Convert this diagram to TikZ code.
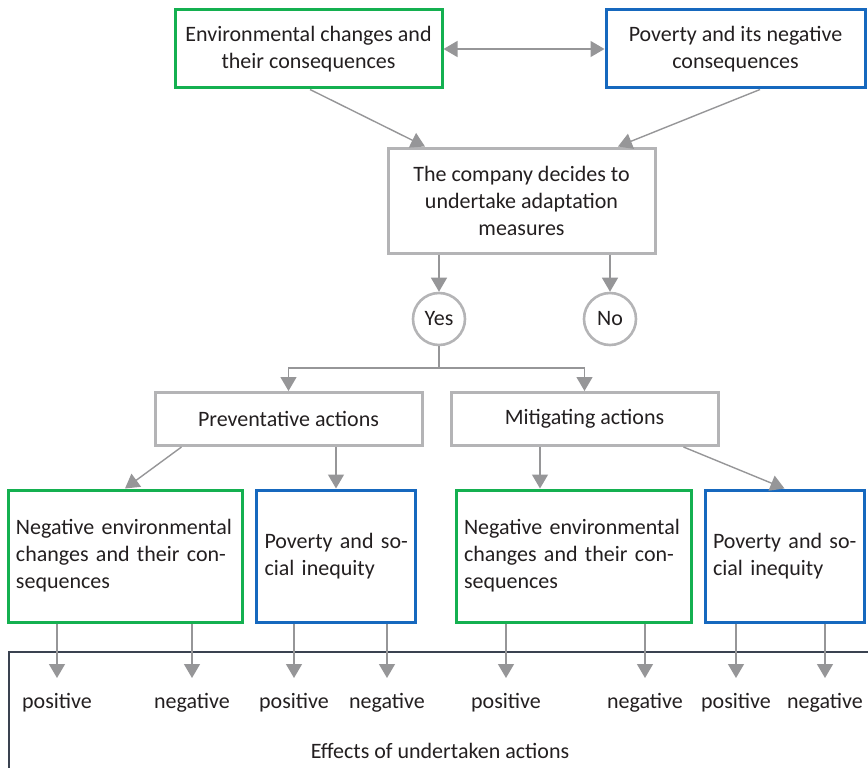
\documentclass[tikz,border=0pt]{standalone}
\usepackage{fontspec}
\setmainfont{Carlito}
\usetikzlibrary{arrows.meta}
\definecolor{envgreen}{RGB}{20,176,80}
\definecolor{povblue}{RGB}{22,104,190}
\definecolor{boxgray}{RGB}{180,180,182}
\definecolor{arrgray}{RGB}{150,150,152}
\definecolor{framedark}{RGB}{58,66,80}
\definecolor{txt}{RGB}{35,31,32}
\begin{document}
\begin{tikzpicture}[x=1pt,y=-1pt,
  font=\fontsize{22}{27}\selectfont, text=txt,
  basebox/.style={draw, line width=3pt, inner sep=0pt, align=center},
  greenbox/.style={basebox, draw=envgreen},
  bluebox/.style={basebox, draw=povblue},
  graybox/.style={basebox, draw=boxgray},
  leftbox/.style={align=left, inner xsep=8pt, inner ysep=0pt},
  choice/.style={circle, draw=boxgray, line width=2.6pt, minimum size=52pt, inner sep=0pt},
  flow/.style={draw=arrgray, line width=1.4pt, -{Triangle[width=16pt,length=14pt]}},
  flowboth/.style={draw=arrgray, line width=1.4pt, {Triangle[width=16pt,length=14pt]}-{Triangle[width=16pt,length=14pt]}},
  joint/.style={draw=arrgray, line width=1.4pt},
  effect/.style={inner sep=0pt}
]
\useasboundingbox (0,0) rectangle (868,768);

% top row: the two driving factors
\node[greenbox, minimum width=267pt, minimum height=78pt] (env) at (308.5,49)
  {Environmental changes and\\their consequences};
\node[bluebox, minimum width=259pt, minimum height=78pt] (pov) at (735.5,49)
  {Poverty and its negative\\consequences};

% decision
\node[graybox, minimum width=267pt, minimum height=105pt] (comp) at (521.5,200.5)
  {The company decides to\\undertake adaptation\\measures};
\node[choice] (yes) at (439,319) {Yes};
\node[choice] (no) at (610,319) {No};

% kinds of action
\node[graybox, minimum width=267pt, minimum height=53pt] (prev) at (288.5,419) {Preventative actions};
\node[graybox, minimum width=267pt, minimum height=53pt] (mit) at (584.5,419) {Mitigating actions};

% areas addressed (hyphenated lines kept as set)
\node[greenbox, leftbox, text width=218pt, minimum height=132pt] (g1) at (125,556)
  {\mbox{Negative environmental}\\\mbox{changes and their con-}\\sequences};
\node[bluebox, leftbox, text width=143pt, minimum height=132pt] (b1) at (336,556)
  {\mbox{Poverty and so-}\\\mbox{cial inequity}};
\node[greenbox, leftbox, text width=219pt, minimum height=132pt] (g2) at (573.5,556)
  {\mbox{Negative environmental}\\\mbox{changes and their con-}\\sequences};
\node[bluebox, leftbox, text width=143pt, minimum height=132pt] (b2) at (784.5,556)
  {\mbox{Poverty and so-}\\\mbox{cial inequity}};

% frame of the effects area, running off the page
\begin{scope}
  \clip (0,0) rectangle (868,768);
  \draw[framedark, line width=2.8pt] (9,652) rectangle (900,800);
\end{scope}
\node[effect] (eff) at (440,751) {Effects of undertaken actions};

% effect labels and arrow tips
\foreach \n/\x/\w in {p1/57/positive, n1/192/negative, p2/294/positive, n2/387/negative,
                      p3/506/positive, n3/645/negative, p4/736/positive, n4/825/negative}{
  \node[effect] (\n) at (\x,703) {\w};
  \coordinate (t\n) at (\x,678);
}

% connectors
\draw[flowboth] (env.east) -- (pov.west);
\draw[flow] ([xshift=1.5pt]env.south) -- ([xshift=-96.5pt]comp.north);
\draw[flow] ([xshift=24.5pt]pov.south) -- ([xshift=96.5pt]comp.north);
\draw[flow] (comp.south -| yes) -- (yes.north);
\draw[flow] (comp.south -| no) -- (no.north);
\coordinate (split) at (439,368);
\draw[joint] (yes.south) -- (split);
\draw[flow] (split) -| (prev.north);
\draw[flow] (split) -| (mit.north);
\draw[flow] ([xshift=28pt]prev.south west) -- (g1.north);
\draw[flow] (prev.south -| b1) -- (b1.north);
\draw[flow] (mit.south -| 540,0) -- (g2.north -| 540,0);
\draw[flow] ([xshift=-36pt]mit.south east) -- (b2.north);

\draw[flow] (g1.south -| tp1) -- (tp1);
\draw[flow] (g1.south -| tn1) -- (tn1);
\draw[flow] (b1.south -| tp2) -- (tp2);
\draw[flow] (b1.south -| tn2) -- (tn2);
\draw[flow] (g2.south -| tp3) -- (tp3);
\draw[flow] (g2.south -| tn3) -- (tn3);
\draw[flow] (b2.south -| tp4) -- (tp4);
\draw[flow] (b2.south -| tn4) -- (tn4);
\end{tikzpicture}
\end{document}
